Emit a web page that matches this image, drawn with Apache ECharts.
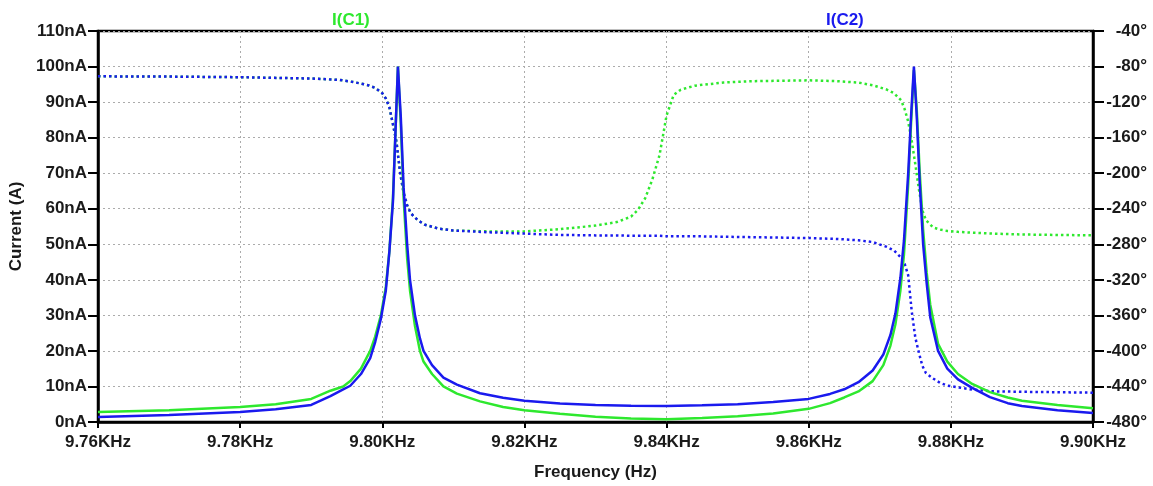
<!DOCTYPE html>
<html>
<head>
<meta charset="utf-8">
<script src="https://cdn.jsdelivr.net/npm/echarts@6/dist/echarts.min.js"></script>
<style>
  html, body { margin: 0; padding: 0; background: #fff; }
  #chart_box { width: 1153px; height: 486px; }
</style>
</head>
<body>
<div id="chart_box"></div>
<script>
// frequencies in Hz
const freqMag = [9760, 9770, 9780, 9785, 9790,
  9792.7, 9794.5, 9795.5, 9797, 9798.3, 9799, 9799.8, 9800.5, 9801, 9801.5, 9801.9, 9802.2, 9802.6, 9803,
  9803.5, 9803.9, 9804.6, 9805.3, 9805.8, 9807, 9808.6, 9810.5, 9813.75, 9817, 9820,
  9825, 9830, 9835, 9840, 9845, 9850, 9855,
  9860, 9863, 9865, 9867, 9869, 9870.5, 9871.5, 9872.2, 9872.9, 9873.4, 9874, 9874.4, 9874.8, 9875.2,
  9875.6, 9876.1, 9876.6, 9877.1, 9878.2, 9879.5, 9881, 9883, 9885.5, 9888, 9890, 9895, 9900];

// |I(C1)| and |I(C2)| in nA
const magC1 = [2.8, 3.3, 4.2, 5.0, 6.5,
  8.8, 10, 11.5, 15, 20, 24, 30, 38, 48, 63, 84, 100, 84, 63,
  46, 37, 27, 20, 17, 13.5, 10, 8, 5.8, 4.2, 3.3,
  2.3, 1.5, 1.0, 0.8, 1.1, 1.6, 2.4,
  3.7, 5.3, 6.9, 8.6, 11.5, 16, 21.5, 27.5, 37, 47, 67, 84, 99, 88,
  71, 54, 42, 33, 22, 17, 13.5, 10.7, 8.4, 6.9, 6.0, 4.8, 3.9];

const magC2 = [1.4, 2.0, 2.8, 3.6, 4.8,
  7.3, 9.2, 10.2, 13.5, 18, 22.5, 29, 37, 48, 62, 84, 100, 86, 66,
  50, 40, 30, 23.5, 20, 16, 12.5, 10.5, 8.1, 6.8, 6.0,
  5.2, 4.8, 4.6, 4.5, 4.7, 5.0, 5.6,
  6.5, 7.9, 9.2, 11.2, 14.5, 19, 24.5, 30.5, 40.5, 51, 70, 86, 100, 86,
  68, 50, 39, 29.5, 20, 15, 12, 9.6, 7.0, 5.3, 4.5, 3.3, 2.5];

const freqPhase = [9760, 9770, 9780, 9790, 9794, 9796, 9798, 9799, 9800, 9800.5, 9801, 9801.5, 9802, 9802.5,
  9803, 9803.5, 9804, 9805, 9806, 9808, 9810, 9815, 9820, 9825, 9830, 9833, 9835, 9836, 9837, 9838, 9839,
  9840, 9841, 9842, 9844, 9848, 9852, 9856, 9860, 9864, 9867, 9869, 9871, 9872, 9873, 9873.5, 9874, 9874.5,
  9875, 9875.5, 9876, 9876.5, 9877.5, 9878.5, 9879.5, 9881, 9883, 9886, 9890, 9895, 9900];

// phase in degrees
const phaseC1 = [-91, -91.3, -92, -93.5, -95, -97.5, -101, -104, -110, -116, -126, -145, -165, -199,
  -222, -236, -245, -253, -258, -262.5, -264.5, -265.5, -265.5, -263, -259, -255, -249, -241, -228, -207, -180,
  -135, -112, -106, -101.5, -98, -96.5, -96, -95.5, -96.5, -98, -101, -106, -110, -118, -128, -142, -164,
  -190, -218, -242, -253, -261, -263.5, -265, -266, -267, -268, -269, -269.5, -270];

const phaseC2 = [-91, -91.3, -92, -93.5, -95, -97.5, -101, -104, -110, -116, -126, -145, -165, -199,
  -222, -236, -245, -253, -258, -262.5, -264.5, -266.5, -268, -269.5, -270, -270, -270.5, -270.5, -270.5, -270.5, -270.5,
  -271, -271, -271, -271, -271.5, -272, -272.5, -273, -274, -275.5, -277.5, -283, -287, -295, -302, -315, -356,
  -385, -402, -417, -425, -431, -436, -439, -441, -443.5, -445.5, -446, -446.5, -447];

const currentTicks = { min: 0, max: 110, step: 10 };
const phaseTicks = { min: -480, max: -40, step: 40 };

const green = '#2ee82e';
const blue = '#1a1aee';
const ink = '#1a1a1a';
const font = 'Liberation Sans, Arial, sans-serif';
const gridDots = { color: '#ababab', type: [2, 3], width: 1 };

const pairs = (xs, ys) => xs.map((x, i) => [x, ys[i]]);

const option = {
  animation: false,
  backgroundColor: '#fff',
  title: [
    { text: 'I(C1)', left: 327, top: 7, textStyle: { color: green, fontFamily: font, fontWeight: 'bold', fontSize: 17 } },
    { text: 'I(C2)', left: 821, top: 7, textStyle: { color: blue, fontFamily: font, fontWeight: 'bold', fontSize: 17 } }
  ],
  grid: {
    left: 98, right: 60, top: 31, bottom: 62,
    show: true, borderColor: '#000', borderWidth: 2.5
  },
  xAxis: {
    type: 'value',
    min: 9760, max: 9900, interval: 20,
    name: 'Frequency (Hz)',
    nameLocation: 'middle',
    nameGap: 42,
    nameTextStyle: { color: ink, fontFamily: font, fontWeight: 'bold', fontSize: 17 },
    axisLine: { lineStyle: { color: '#000', width: 2.5 } },
    axisTick: { length: 6, lineStyle: { color: '#000', width: 2 } },
    axisLabel: {
      color: ink, fontFamily: font, fontWeight: 'bold', fontSize: 17, margin: 12,
      formatter: v => (v / 1000).toFixed(2) + 'KHz'
    },
    splitLine: { lineStyle: gridDots }
  },
  yAxis: [
    {
      type: 'value',
      min: currentTicks.min, max: currentTicks.max, interval: currentTicks.step,
      name: 'Current (A)',
      nameLocation: 'middle',
      nameGap: 69,
      nameTextStyle: { color: ink, fontFamily: font, fontWeight: 'bold', fontSize: 17 },
      axisLine: { show: true, lineStyle: { color: '#000', width: 2.5 } },
      axisTick: { show: true, length: 10, lineStyle: { color: '#000', width: 2 } },
      axisLabel: {
        color: ink, fontFamily: font, fontWeight: 'bold', fontSize: 17, margin: 11,
        formatter: v => v + 'nA'
      },
      splitLine: { lineStyle: gridDots }
    },
    {
      type: 'value',
      position: 'right',
      min: phaseTicks.min, max: phaseTicks.max, interval: phaseTicks.step,
      axisLine: { show: true, lineStyle: { color: '#000', width: 2.5 } },
      axisTick: { show: true, length: 11, lineStyle: { color: '#000', width: 2 } },
      axisLabel: {
        color: ink, fontFamily: font, fontWeight: 'bold', fontSize: 17, margin: 54, align: 'right',
        formatter: v => v + '°'
      },
      splitLine: { show: false }
    }
  ],
  series: [
    {
      name: 'I(C1) phase', type: 'line', yAxisIndex: 1, showSymbol: false,
      data: pairs(freqPhase, phaseC1),
      lineStyle: { color: green, width: 2.5, type: [2.5, 3] }
    },
    {
      name: 'I(C2) phase', type: 'line', yAxisIndex: 1, showSymbol: false,
      data: pairs(freqPhase, phaseC2),
      lineStyle: { color: blue, width: 2.5, type: [2.5, 3] }
    },
    {
      name: 'I(C1)', type: 'line', yAxisIndex: 0, showSymbol: false,
      data: pairs(freqMag, magC1),
      lineStyle: { color: green, width: 2.5 }
    },
    {
      name: 'I(C2)', type: 'line', yAxisIndex: 0, showSymbol: false,
      data: pairs(freqMag, magC2),
      lineStyle: { color: blue, width: 2.5 }
    }
  ]
};

const myChart = echarts.init(document.getElementById('chart_box'));
myChart.setOption(option);
</script>
</body>
</html>
